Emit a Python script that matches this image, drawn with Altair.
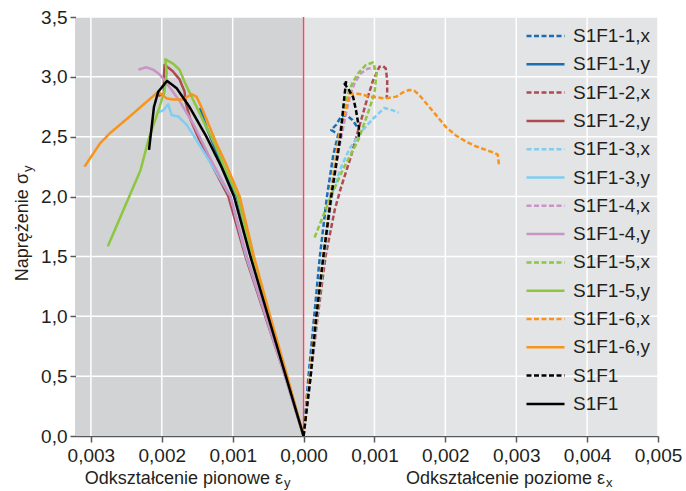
import altair as alt
import pandas as pd

# ---------------- data ----------------
series = ["S1F1-1,x", "S1F1-1,y", "S1F1-2,x", "S1F1-2,y", "S1F1-3,x", "S1F1-3,y",
          "S1F1-4,x", "S1F1-4,y", "S1F1-5,x", "S1F1-5,y", "S1F1-6,x", "S1F1-6,y",
          "S1F1,x", "S1F1,y"]

# horizontal strain (x) series, positive; vertical strain (y) series, drawn negative
s11x_eps = [0, 0.00007, 0.00015, 0.00023, 0.00033, 0.00042, 0.00049, 0.00039, 0.00046, 0.00053, 0.0006, 0.00069, 0.00077]
s11x_sig = [0, 0.5, 1.0, 1.5, 2.0, 2.35, 2.52, 2.556, 2.6, 2.67, 2.68, 2.64, 2.57]
s11y_eps = [0, -0.00024, -0.00049, -0.00073, -0.00094, -0.00118, -0.00137, -0.00146]
s11y_sig = [0, 0.5, 1.0, 1.5, 2.0, 2.3, 2.58, 2.74]

s12x_eps = [0, 0.0001, 0.0002, 0.00031, 0.00044, 0.00053, 0.00065, 0.00076, 0.00088, 0.00098, 0.00107, 0.00112, 0.00116, 0.00118, 0.00118, 0.00117]
s12x_sig = [0, 0.5, 1.0, 1.5, 1.89, 2.08, 2.3, 2.53, 2.78, 2.97, 3.085, 3.09, 3.07, 2.97, 2.86, 2.82]
s12y_eps = [0, -0.00026, -0.00054, -0.00082, -0.00106, -0.00128, -0.00149, -0.0016, -0.00166, -0.00168, -0.00175, -0.00185, -0.00196, -0.00197, -0.00197, -0.00205]
s12y_sig = [0, 0.5, 1.0, 1.5, 2.0, 2.25, 2.5, 2.65, 2.78, 2.88, 2.98, 3.05, 3.1, 3.0, 2.86, 2.84]

s13x_eps = [0, 0.0001, 0.00019, 0.00029, 0.0004, 0.00051, 0.00065, 0.00081, 0.00098, 0.00114, 0.00126, 0.00134]
s13x_sig = [0, 0.5, 1.0, 1.5, 2.0, 2.22, 2.4, 2.54, 2.65, 2.74, 2.72, 2.70]
s13y_eps = [0, -0.00026, -0.00053, -0.00081, -0.00103, -0.00128, -0.00154, -0.00165, -0.00177, -0.00186, -0.00191, -0.00198, -0.00207]
s13y_sig = [0, 0.5, 1.0, 1.5, 2.0, 2.25, 2.5, 2.6, 2.67, 2.68, 2.77, 2.72, 2.70]

s14x_eps = [0, 0.00009, 0.00018, 0.00028, 0.00039, 0.0005, 0.0006, 0.00066, 0.00072, 0.00081, 0.00091, 0.001]
s14x_sig = [0, 0.5, 1.0, 1.5, 2.0, 2.4, 2.7, 2.85, 2.95, 3.03, 3.07, 3.07]
s14y_eps = [0, -0.00026, -0.00053, -0.0008, -0.00103, -0.0013, -0.00155, -0.00175, -0.00196, -0.00203, -0.00212, -0.00222, -0.00233]
s14y_sig = [0, 0.5, 1.0, 1.5, 2.0, 2.3, 2.6, 2.8, 2.97, 3.02, 3.06, 3.08, 3.06]

s15x_eps = [0, 0.00009, 0.00018, 0.00028, 0.00038, 0.0005, 0.00058, 0.00062, 0.00069, 0.00077, 0.00088, 0.00098, 0.00103, 0.001, 0.00088, 0.00077, 0.00055, 0.00037, 0.00015]
s15x_sig = [0, 0.5, 1.0, 1.5, 2.0, 2.5, 2.75, 2.85, 2.95, 3.03, 3.1, 3.12, 3.03, 2.86, 2.65, 2.47, 2.22, 1.98, 1.65]
s15y_eps = [0, -0.00024, -0.00049, -0.00073, -0.00093, -0.00112, -0.00124, -0.00142, -0.00158, -0.00168, -0.00175, -0.00184, -0.00195, -0.00193, -0.00196, -0.00203, -0.00219, -0.0023, -0.00276]
s15y_sig = [0, 0.5, 1.0, 1.5, 2.0, 2.25, 2.42, 2.64, 2.835, 2.96, 3.06, 3.11, 3.147, 3.03, 2.89, 2.75, 2.47, 2.22, 1.586]

s16x_eps = [0, 0.00009, 0.00018, 0.00028, 0.00038, 0.0005, 0.00058, 0.00065, 0.00079, 0.00093, 0.00116, 0.00131, 0.0014, 0.00149, 0.00156, 0.00163, 0.00173, 0.00187, 0.00201, 0.00215, 0.00229, 0.00243, 0.00257, 0.00269, 0.00274, 0.00276]
s16x_sig = [0, 0.5, 1.0, 1.5, 2.0, 2.5, 2.7, 2.86, 2.857, 2.835, 2.82, 2.835, 2.87, 2.89, 2.885, 2.85, 2.78, 2.68, 2.58, 2.51, 2.46, 2.42, 2.39, 2.366, 2.35, 2.25]
s16y_eps = [0, -0.00023, -0.00047, -0.0007, -0.0009, -0.0011, -0.00123, -0.00142, -0.00151, -0.00158, -0.0017, -0.00184, -0.00193, -0.00205, -0.00245, -0.00273, -0.00287, -0.00309]
s16y_sig = [0, 0.5, 1.0, 1.5, 2.0, 2.28, 2.445, 2.72, 2.835, 2.855, 2.81, 2.81, 2.82, 2.876, 2.67, 2.53, 2.445, 2.25]

s1x_eps = [0, 0.0001, 0.00018, 0.00028, 0.00039, 0.00052, 0.00057, 0.0006, 0.00058, 0.00063, 0.0007, 0.00074, 0.00078, 0.00078]
s1x_sig = [0, 0.5, 1.0, 1.5, 2.0, 2.5, 2.8, 2.966, 2.94, 2.9, 2.83, 2.72, 2.58, 2.5]
s1y_eps = [0, -0.00025, -0.0005, -0.00075, -0.00098, -0.00116, -0.00137, -0.00161, -0.00179, -0.001925, -0.00205, -0.00211, -0.00218]
s1y_sig = [0, 0.5, 1.0, 1.5, 2.0, 2.25, 2.5, 2.75, 2.905, 2.966, 2.876, 2.75, 2.39]

x_ticks = [-0.003, -0.002, -0.001, 0.0, 0.001, 0.002, 0.003, 0.004, 0.005]
y_ticks = [0.0, 0.5, 1.0, 1.5, 2.0, 2.5, 3.0, 3.5]
x_domain = [-0.00321, 0.005]
y_domain = [0.0, 3.5]

title_left = ["Odkształcenie pionowe ε"]
title_right = ["Odkształcenie poziome ε"]
title_y = ["Naprężenie σ"]
sub_y = ["y"]
sub_x = ["x"]

# ---------------- styles ----------------
colors = ["#1b6db4", "#1b6db4", "#b04a52", "#b04a52", "#80cdf1", "#80cdf1",
          "#c993c5", "#c993c5", "#8dc63f", "#8dc63f", "#f7941d", "#f7941d",
          "#000000", "#000000"]
DASH = [5, 2.5]
SOLID = [1, 0]
dashes = [DASH, SOLID] * 7

FONT = "Liberation Sans"
TXT = "#231f20"

pairs = [(s11x_eps, s11x_sig), (s11y_eps, s11y_sig), (s12x_eps, s12x_sig), (s12y_eps, s12y_sig),
         (s13x_eps, s13x_sig), (s13y_eps, s13y_sig), (s14x_eps, s14x_sig), (s14y_eps, s14y_sig),
         (s15x_eps, s15x_sig), (s15y_eps, s15y_sig), (s16x_eps, s16x_sig), (s16y_eps, s16y_sig),
         (s1x_eps, s1x_sig), (s1y_eps, s1y_sig)]
rows = []
for name, (ex, sg) in zip(series, pairs):
    for i, (e, s) in enumerate(zip(ex, sg)):
        rows.append({"series": name, "eps": e, "sig": s, "ord": i})
df = pd.DataFrame(rows)

W, H = 582, 419

xscale = alt.Scale(domain=x_domain, nice=False, zero=False)
yscale = alt.Scale(domain=y_domain, nice=False, zero=False)
xaxis = alt.Axis(values=x_ticks, grid=False, labelFont=FONT, labelFontSize=19, labelColor=TXT,
                 labelExpr="replace(format(abs(datum.value), '.3f'), '.', ',')",
                 labelFlush=False, labelOverlap=False, labelPadding=4,
                 domainColor="#58595b", domainWidth=1.5, tickColor="#58595b", tickWidth=1.5, tickSize=6)
yaxis = alt.Axis(values=y_ticks, grid=False, labelFont=FONT, labelFontSize=19, labelColor=TXT,
                 labelExpr="replace(format(datum.value, '.1f'), '.', ',')",
                 labelFlush=False, labelOverlap=False, labelPadding=3,
                 domainColor="#58595b", domainWidth=1.5, tickColor="#58595b", tickWidth=1.5, tickSize=6)

def X(f):
    return alt.X(f, type="quantitative", scale=xscale, axis=xaxis, title=None)

def Y(f):
    return alt.Y(f, type="quantitative", scale=yscale, axis=yaxis, title=None)

bg_left = alt.Chart(pd.DataFrame({"a": [x_domain[0]], "b": [0.0], "c": [y_domain[0]], "d": [y_domain[1]]})).mark_rect(
    fill="#d1d3d4").encode(x=X("a"), x2="b", y=Y("c"), y2="d")
bg_right = alt.Chart(pd.DataFrame({"a": [0.0], "b": [x_domain[1]], "c": [y_domain[0]], "d": [y_domain[1]]})).mark_rect(
    fill="#e3e4e5").encode(x=X("a"), x2="b", y=Y("c"), y2="d")

vgrid = alt.Chart(pd.DataFrame({"v": x_ticks})).mark_rule(color="white", strokeWidth=1.5).encode(x=X("v"))
hgrid = alt.Chart(pd.DataFrame({"v": y_ticks[1:]})).mark_rule(color="white", strokeWidth=1.5).encode(y=Y("v"))
redline = alt.Chart(pd.DataFrame({"v": [0.0]})).mark_rule(color="#f04c64", strokeWidth=1.5).encode(x=X("v"))

legend = alt.Legend(title=None, orient="none", legendX=449, legendY=9, symbolType="stroke",
                    symbolSize=1444, symbolStrokeWidth=2.5, clipHeight=20, rowPadding=8.3,
                    labelFont=FONT, labelFontSize=19, labelColor=TXT, labelOffset=7, padding=0,
                    labelExpr="(datum.label == 'S1F1,x' || datum.label == 'S1F1,y') ? 'S1F1' : datum.label")
color = alt.Color("series:N", scale=alt.Scale(domain=series, range=colors), legend=legend)
dash = alt.StrokeDash("series:N", scale=alt.Scale(domain=series, range=dashes), legend=legend)

base_lines = alt.Chart(df).mark_line(strokeWidth=2.5, strokeCap="butt", strokeJoin="round").encode(
    x=X("eps"), y=Y("sig"), color=color, strokeDash=dash, order="ord:Q")
lines_a = base_lines.transform_filter(alt.FieldOneOfPredicate(field="series", oneOf=series[:12]))
lines_b = base_lines.transform_filter(alt.FieldOneOfPredicate(field="series", oneOf=series[12:]))

def txt(vals, **kw):
    return alt.Chart(pd.DataFrame({"t": vals})).mark_text(font=FONT, color=TXT, **kw)

t_left = txt(title_left, fontSize=18, align="right", baseline="alphabetic").encode(
    text="t:N", x=alt.value(207), y=alt.value(467))
t_left_sub = txt(sub_y, fontSize=13, align="left", baseline="alphabetic", dx=1, dy=3).encode(
    text="t:N", x=alt.value(207), y=alt.value(467))
t_right = txt(title_right, fontSize=18, align="right", baseline="alphabetic").encode(
    text="t:N", x=alt.value(529), y=alt.value(467))
t_right_sub = txt(sub_x, fontSize=13, align="left", baseline="alphabetic", dx=1, dy=3).encode(
    text="t:N", x=alt.value(529), y=alt.value(467))
t_y = txt(title_y, fontSize=18, align="right", baseline="alphabetic", angle=270).encode(
    text="t:N", x=alt.value(-48), y=alt.value(156))
t_y_sub = txt(sub_y, fontSize=13, align="left", baseline="alphabetic", angle=270, dx=1, dy=4).encode(
    text="t:N", x=alt.value(-48), y=alt.value(156))

chart = alt.layer(bg_left, bg_right, vgrid, hgrid, redline, lines_a, lines_b,
                  t_left, t_left_sub, t_right, t_right_sub, t_y, t_y_sub).properties(
    width=W, height=H,
    padding={"left": 76, "top": 17, "right": 28, "bottom": 55},
    autosize=alt.AutoSizeParams(type="none"),
    background="white",
).configure_view(strokeWidth=0)

chart.save("out.html", embed_options={"renderer": "svg", "actions": False})
